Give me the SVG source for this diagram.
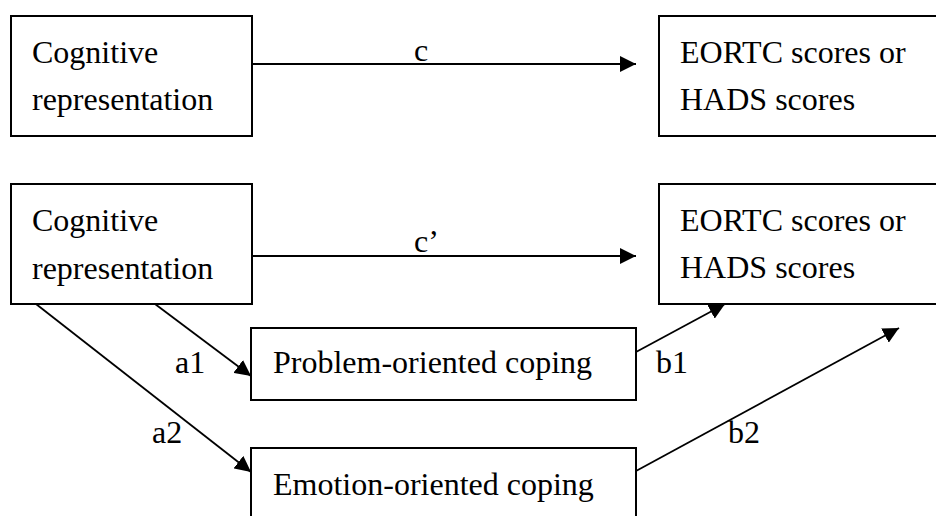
<svg xmlns="http://www.w3.org/2000/svg" width="936" height="516" viewBox="0 0 936 516">
<defs>
<style>
.box{fill:#fff;stroke:#000;stroke-width:2}
.t{font-family:"Liberation Serif","Times New Roman",serif;font-size:32px;fill:#000}
.edge{stroke:#000;stroke-width:1.8;fill:none;marker-end:url(#ah)}
</style>
<marker id="ah" markerUnits="userSpaceOnUse" markerWidth="16" markerHeight="16" refX="16" refY="8" orient="auto">
<path d="M0,0 L16,8 L0,16 Z" fill="#000"/>
</marker>
</defs>
<rect width="936" height="516" fill="#fff"/>
<g id="connectors">
<line class="edge" x1="252" y1="64" x2="636" y2="64"/>
<line class="edge" x1="252" y1="256" x2="636" y2="256"/>
<line class="edge" x1="155" y1="304" x2="251" y2="376"/>
<line class="edge" x1="36" y1="304" x2="251" y2="472"/>
<line class="edge" x1="636" y1="352" x2="725" y2="304"/>
<line class="edge" x1="636" y1="471" x2="899" y2="328"/>
<text class="t" x="414" y="61">c</text>
<text class="t" x="414" y="252">c’</text>
<text class="t" x="175" y="373">a1</text>
<text class="t" x="152" y="443">a2</text>
<text class="t" x="656" y="373">b1</text>
<text class="t" x="728" y="443">b2</text>
</g>
<g id="cog1">
<rect class="box" x="11" y="16" width="241" height="120"/>
<text class="t" x="32" y="63">Cognitive</text>
<text class="t" x="32" y="110">representation</text>
</g>
<g id="out1">
<rect class="box" x="659" y="16" width="290" height="120"/>
<text class="t" x="680" y="63">EORTC scores or</text>
<text class="t" x="680" y="110">HADS scores</text>
</g>
<g id="cog2">
<rect class="box" x="11" y="184" width="241" height="120"/>
<text class="t" x="32" y="231">Cognitive</text>
<text class="t" x="32" y="279">representation</text>
</g>
<g id="out2">
<rect class="box" x="659" y="184" width="290" height="120"/>
<text class="t" x="680" y="231">EORTC scores or</text>
<text class="t" x="680" y="278">HADS scores</text>
</g>
<g id="problem">
<rect class="box" x="251" y="328" width="385" height="72"/>
<text class="t" x="273" y="373">Problem-oriented coping</text>
</g>
<g id="emotion">
<rect class="box" x="251" y="448" width="385" height="72"/>
<text class="t" x="273" y="495">Emotion-oriented coping</text>
</g>
</svg>
